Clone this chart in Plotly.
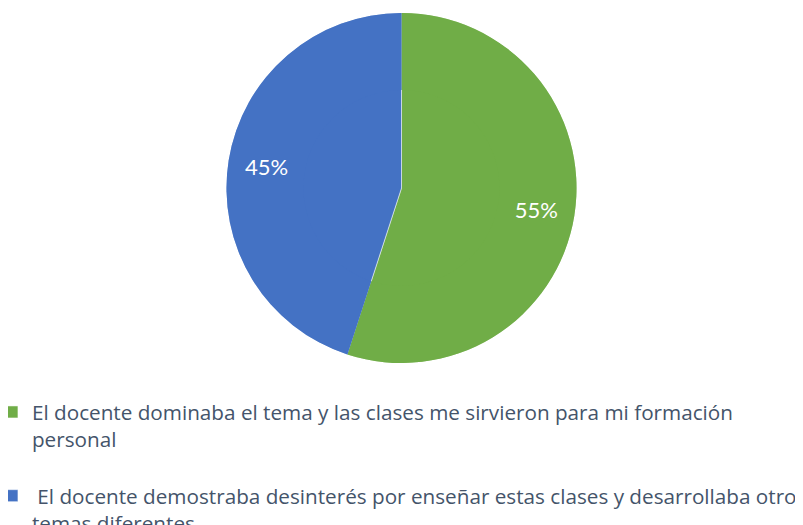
import plotly.graph_objects as go

labels = [
    "El docente dominaba el tema y las clases me sirvieron para mi formación<br>personal<br> ",
    " El docente demostraba desinterés por enseñar estas clases y desarrollaba otro<br>temas diferentes",
]
values = [55, 45]
colors = ["#70AD47", "#4472C4"]

# page body adds an 8px offset; the domain compensates for it
dom = dict(x=[0, 787 / 803], y=[(525 - 355) / 525, (525 - 5) / 525])

fig = go.Figure()
# base pie (full disc, carries the legend)
fig.add_trace(
    go.Pie(
        labels=labels,
        values=values,
        marker=dict(colors=colors, line=dict(color="white", width=0.5)),
        sort=False,
        direction="clockwise",
        rotation=0,
        textinfo="none",
        domain=dom,
        hoverinfo="label+percent",
    )
)
# ring overlay used only to place percentage labels further out
fig.add_trace(
    go.Pie(
        labels=labels,
        values=values,
        hole=0.56,
        marker=dict(colors=colors, line=dict(color="white", width=0)),
        sort=False,
        direction="clockwise",
        rotation=0,
        texttemplate="%{percent:.0%}",
        textposition="inside",
        insidetextorientation="horizontal",
        textfont=dict(color="white", size=22, family="Lato"),
        domain=dom,
        showlegend=False,
        hoverinfo="label+percent",
    )
)

fig.update_layout(
    width=803,
    height=525,
    margin=dict(l=0, r=0, t=0, b=0, autoexpand=False),
    paper_bgcolor="white",
    plot_bgcolor="white",
    showlegend=True,
    legend=dict(
        x=-0.02,
        y=(525 - 384) / 525,
        xanchor="left",
        yanchor="top",
        orientation="v",
        valign="top",
        font=dict(family="Open Sans", size=20.7, color="#44546A"),
        itemwidth=30,
    ),
)

fig.write_html("out.html")
